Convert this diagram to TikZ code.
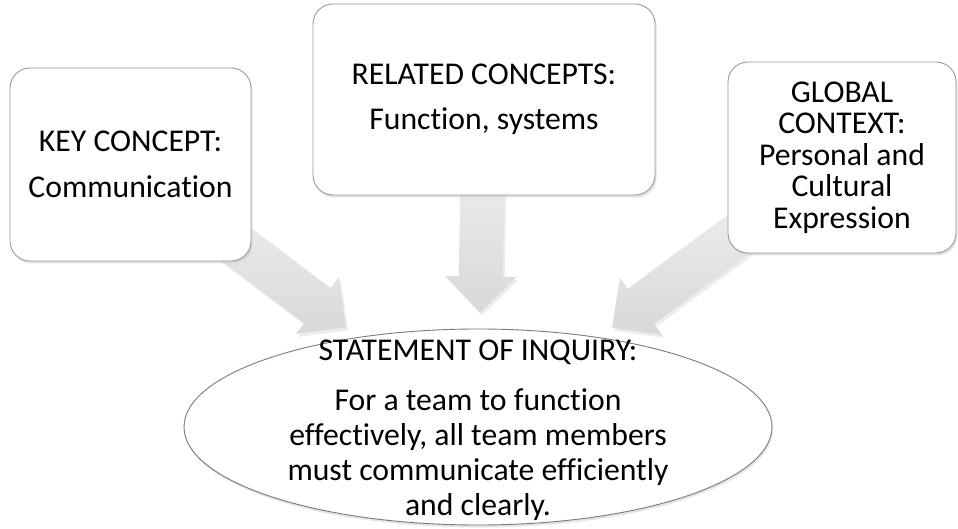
\documentclass[tikz,border=0pt]{standalone}
\usepackage{fontspec}
\setmainfont[Ligatures=NoCommon]{Carlito}
\usepackage{xcolor}
\usetikzlibrary{calc, shadows, shapes.geometric, backgrounds}
\definecolor{boxgray}{HTML}{9A9A9A}
\definecolor{ringgray}{HTML}{7A7A7A}

\begin{document}
\begin{tikzpicture}[
    x=1pt, y=-1pt,
    conceptbox/.style={
      rectangle, draw=boxgray, fill=white, rounded corners=20pt, line width=0.9pt,
      align=center, inner sep=0pt, font=\fontsize{31.7}{32}\selectfont,
      drop shadow={shadow xshift=1.5pt, shadow yshift=-2.5pt, fill=black!22}
    },
    inquiry/.style={
      ellipse, draw=ringgray, fill=white, line width=0.9pt, inner sep=0pt,
      minimum width=588pt, minimum height=196pt,
      drop shadow={shadow xshift=1pt, shadow yshift=-2.5pt, fill=black!20}
    },
    bigarrow/.style={
      top color=gray!8, bottom color=gray!30, draw=none,
      drop shadow={shadow xshift=2pt, shadow yshift=-3pt, fill=black!14}
    },
]
  \useasboundingbox (0,0) rectangle (958,529);

  \node[conceptbox, minimum width=241pt, minimum height=193pt] (key) at (130.5,164.5)
    {KEY CONCEPT:\\[14pt]Communication};
  \node[conceptbox, minimum width=342pt, minimum height=191pt] (related) at (484,99.5)
    {RELATED CONCEPTS:\\[13pt]Function, systems};
  \node[conceptbox, minimum width=228pt, minimum height=191pt,
        font=\fontsize{31.7}{31.5}\selectfont] (context) at (842,157.5)
    {GLOBAL\\CONTEXT:\\Personal and\\Cultural\\Expression};

  \node[inquiry] (soi) at (478,427) {};
  \node[align=center, font=\fontsize{31.7}{35}\selectfont] (soitext) at ([yshift=-3.5pt]soi.center)
    {STATEMENT OF INQUIRY:\\[15pt]For a team to function\\effectively, all team members\\must communicate efficiently\\and clearly.};

  % block arrows behind the boxes
  \begin{scope}[on background layer]
    \foreach \src in {key,related,context}{
      \path (\src.center) -- coordinate[pos=1] (rim) (soi);
      \coordinate (tip) at ($(rim)!16pt!(\src.center)$);
      \coordinate (base) at ($(tip)!36pt!(\src.center)$);
      \shade[bigarrow] ($(\src.center)!22pt!90:(tip)$) -- ($(base)!22pt!-90:(\src.center)$)
        -- ($(base)!35.5pt!-90:(\src.center)$) -- (tip)
        -- ($(base)!35.5pt!90:(\src.center)$) -- ($(base)!22pt!90:(\src.center)$)
        -- ($(\src.center)!22pt!-90:(tip)$) -- cycle;
    }
  \end{scope}
\end{tikzpicture}
\end{document}
